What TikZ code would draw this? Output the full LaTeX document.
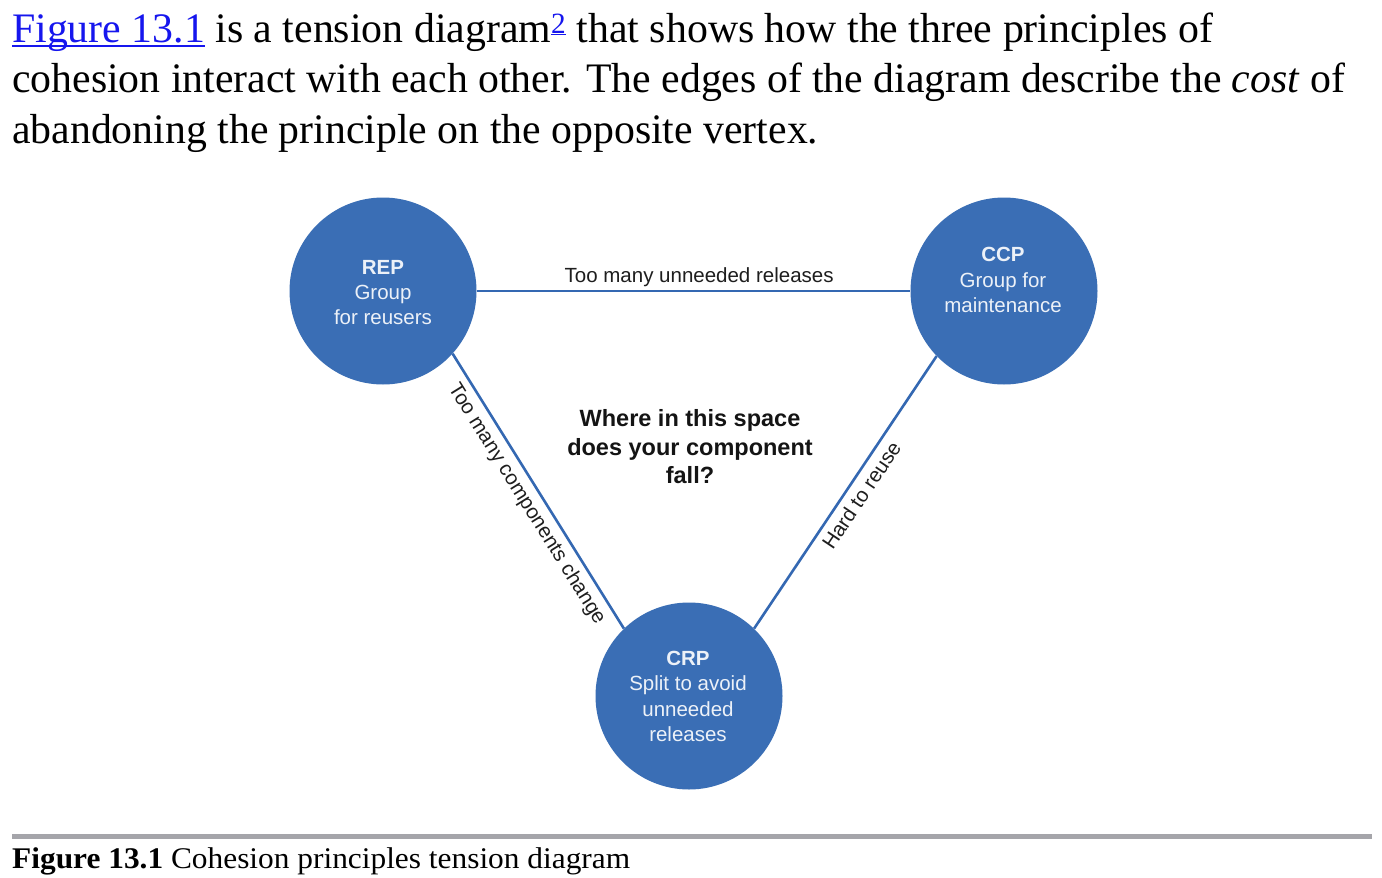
\documentclass[tikz,border=0pt]{standalone}
\usepackage{fontspec}
\usepackage{graphicx}
\setmainfont{Liberation Serif}
\newfontfamily\diagfont{Liberation Sans}

\definecolor{linkblue}{RGB}{22,22,238}
\definecolor{nodeblue}{RGB}{58,110,181}
\definecolor{edgeblue}{RGB}{52,104,178}
\definecolor{nodetext}{RGB}{236,241,248}
\definecolor{labelgray}{RGB}{30,30,30}
\definecolor{rulegray}{RGB}{165,165,170}

% underline set close under the baseline, as browsers draw link underlines
\newcommand\linkul[2]{\setbox0\hbox{#2}\rlap{\raisebox{#1}{\rule{\wd0}{1.8pt}}}\box0}

\begin{document}
\begin{tikzpicture}[x=1pt,y=-1pt,
  principle/.style={circle, fill=nodeblue, draw=none, minimum size=187pt, inner sep=0pt},
  principletext/.style={text=nodetext, align=center, inner sep=0pt,
    font=\diagfont\fontsize{20.5}{25.3}\selectfont},
  costedge/.style={draw=edgeblue, line width=2.6pt},
  edgelabel/.style={text=labelgray, inner sep=6pt,
    font=\diagfont\fontsize{20.5}{24}\selectfont},
  bodyline/.style={anchor=base west, inner sep=0pt, font=\fontsize{42}{50}\selectfont},
  captionline/.style={anchor=base west, inner sep=0pt, font=\fontsize{30}{36}\selectfont}
]
\useasboundingbox (0,0) rectangle (1382,878);
\fill[white] (0,0) rectangle (1382,878);

% paragraph above the figure
\node[bodyline] (para1) at (12,42.5) {\resizebox{1201pt}{\height}{{\color{linkblue}\linkul{-4.5pt}{Figure 13.1}} is a tension diagram{\color{linkblue}\textsuperscript{\linkul{-2pt}{2}}} that shows how the three principles of}};
\node[bodyline] (para2) at (12,92.7) {\resizebox{1333pt}{\height}{cohesion interact with each other. The edges of the diagram describe the \textit{cost} of}};
\node[bodyline] (para3) at (12,143) {\resizebox{806pt}{\height}{abandoning the principle on the opposite vertex.}};

% the three principles
\node[principle] (rep) at (383,291) {};
\node[principle] (ccp) at (1004,291) {};
\node[principle] (crp) at (689,696) {};

\node[principletext] (reptext) at (383,292.5) {{\bfseries REP}\\Group\\for reusers};
\node[principletext] (ccptext) at (1003,280) {{\bfseries CCP}\\Group for\\maintenance};
\node[principletext] (crptext) at (688,696.5) {{\bfseries CRP}\\Split to avoid\\unneeded\\releases};

% cost edges between the principles
\draw[costedge] (rep.east) -- node[edgelabel, above, inner sep=2.5pt, pos=0.513] (topcost) {Too many unneeded releases} (ccp.west);
\draw[costedge] (rep.-42) -- node[edgelabel, sloped, below, pos=0.515] (leftcost) {Too many components change} (crp.134);
\draw[costedge] (crp.46) -- node[edgelabel, sloped, below, pos=0.52] (rightcost) {Hard to reuse} (ccp.224.6);

% question in the middle
\node[align=center, text=black!92, inner sep=0pt,
  font=\diagfont\bfseries\fontsize{23.5}{28.5}\selectfont] (question) at (690,447)
  {Where in this space\\does your component\\fall?};

% caption
\draw[rulegray, line width=5pt] (12,836.5) -- (1372,836.5);
\node[captionline] (caption) at (12,868) {\resizebox{618pt}{\height}{\textbf{Figure 13.1} Cohesion principles tension diagram}};
\end{tikzpicture}
\end{document}
